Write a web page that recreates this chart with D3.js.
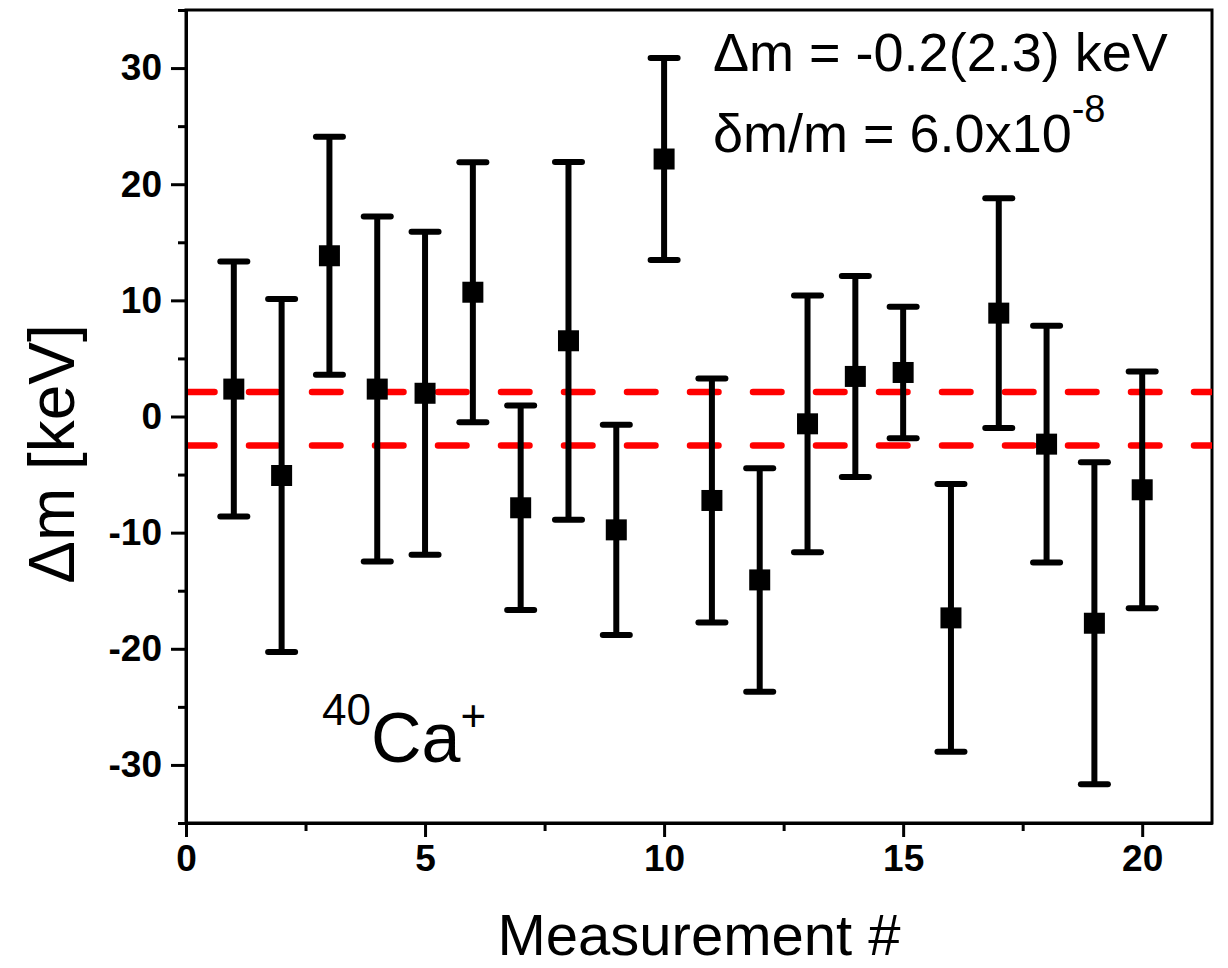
<!DOCTYPE html>
<html>
<head>
<meta charset="utf-8">
<script src="https://cdn.jsdelivr.net/npm/d3@7"></script>
<style>
body { margin: 0; background: #fff; }
text { font-family: "Liberation Sans", Arial, sans-serif; }
</style>
</head>
<body>
<script>

// measurement number, mass deviation [keV] and its 1-sigma error
const measurement = [1, 2, 3, 4, 5, 6, 7, 8, 9, 10, 11, 12, 13, 14, 15, 16, 17, 18, 19, 20];
const deltaM = [2.36, -5.08, 13.84, 2.36, 2.0, 10.7, -7.86, 6.52, -9.76, 22.17,
                -7.23, -14.07, -0.63, 3.45, 3.79, -17.34, 8.9, -2.38, -17.8, -6.31];
const deltaMErr = [10.98, 15.2, 10.25, 14.85, 13.9, 11.2, 8.8, 15.4, 9.05, 8.7,
                   10.5, 9.62, 11.05, 8.65, 5.66, 11.52, 9.9, 10.2, 13.87, 10.19];

// weighted mean +/- uncertainty band
const meanBand = [2.1, -2.5];

const xTicks = [0, 5, 10, 15, 20];
const xMinor = [2.5, 7.5, 12.5, 17.5];
const yTicks = [-30, -20, -10, 0, 10, 20, 30];
const yMinor = [-35, -25, -15, -5, 5, 15, 25, 35];

var svg = d3.select('body').append('svg')
    .attr('width', 1228)
    .attr('height', 968);

var pLeft = 186, pRight = 1212, pTop = 10, pBottom = 823;

var x = d3.scaleLinear().domain([0, 21.46]).range([pLeft, pRight]);
var y = d3.scaleLinear().domain([-35, 35]).range([pBottom, pTop]);

svg.append('defs').append('clipPath').attr('id', 'plot')
    .append('rect')
    .attr('x', pLeft).attr('y', pTop)
    .attr('width', pRight - pLeft).attr('height', pBottom - pTop);

// frame
svg.append('rect')
    .attr('x', pLeft).attr('y', pTop)
    .attr('width', pRight - pLeft).attr('height', pBottom - pTop)
    .attr('fill', 'none')
    .attr('stroke', '#000')
    .attr('stroke-width', 3);

// dashed band lines
svg.append('g').attr('clip-path', 'url(#plot)')
    .selectAll('line')
    .data(meanBand)
    .enter().append('line')
    .attr('x1', x(0)).attr('x2', pRight + 40)
    .attr('y1', d => y(d)).attr('y2', d => y(d))
    .attr('stroke', '#ff0000')
    .attr('stroke-width', 6.5)
    .attr('stroke-linecap', 'round')
    .attr('stroke-dasharray', '28.5,34.5');

// axes
function styleAxis(g) {
    g.select('.domain').attr('stroke-width', 3);
    g.selectAll('.tick line').attr('stroke-width', 3);
    g.selectAll('.tick text')
        .attr('font-family', '"Liberation Sans", Arial, sans-serif')
        .attr('font-weight', 'bold')
        .attr('font-size', 37)
        .attr('fill', '#000');
}

svg.append('g')
    .attr('transform', 'translate(0,' + pBottom + ')')
    .call(d3.axisBottom(x).tickValues(xMinor).tickSize(8).tickSizeOuter(0).tickFormat(''))
    .call(styleAxis);

svg.append('g')
    .attr('transform', 'translate(0,' + pBottom + ')')
    .call(d3.axisBottom(x).tickValues(xTicks).tickSize(14).tickSizeOuter(0).tickPadding(8)
        .tickFormat(d => String(d)))
    .call(styleAxis);

svg.append('g')
    .attr('transform', 'translate(' + pLeft + ',0)')
    .call(d3.axisLeft(y).tickValues(yMinor).tickSize(8).tickSizeOuter(0).tickFormat(''))
    .call(styleAxis);

svg.append('g')
    .attr('transform', 'translate(' + pLeft + ',0)')
    .call(d3.axisLeft(y).tickValues(yTicks).tickSize(15).tickSizeOuter(0).tickPadding(9)
        .tickFormat(d => String(d)))
    .call(styleAxis);

// error bars
var pts = measurement.map((m, i) => ({ m: m, v: deltaM[i], e: deltaMErr[i] }));
var bars = svg.append('g').attr('stroke', '#000').attr('stroke-width', 6);

bars.selectAll('.stem')
    .data(pts)
    .enter().append('line')
    .attr('class', 'stem')
    .attr('x1', d => x(d.m)).attr('x2', d => x(d.m))
    .attr('y1', d => y(d.v - d.e)).attr('y2', d => y(d.v + d.e));

bars.selectAll('.cap')
    .data(pts.flatMap(d => [{ m: d.m, v: d.v + d.e }, { m: d.m, v: d.v - d.e }]))
    .enter().append('line')
    .attr('class', 'cap')
    .attr('stroke-linecap', 'round')
    .attr('x1', d => x(d.m) - 13.5).attr('x2', d => x(d.m) + 13.5)
    .attr('y1', d => y(d.v)).attr('y2', d => y(d.v));

svg.append('g').selectAll('rect')
    .data(pts)
    .enter().append('rect')
    .attr('x', d => x(d.m) - 10.5)
    .attr('y', d => y(d.v) - 10.5)
    .attr('width', 21).attr('height', 21)
    .attr('fill', '#000');

// axis titles
svg.append('text')
    .attr('x', (pLeft + pRight) / 2)
    .attr('y', 955)
    .attr('text-anchor', 'middle')
    .attr('font-size', 58)
    .text('Measurement #');

svg.append('text')
    .attr('transform', 'translate(74,454) rotate(-90)')
    .attr('text-anchor', 'middle')
    .attr('font-size', 64)
    .text('Δm [keV]');

// annotations
svg.append('text')
    .attr('x', 713).attr('y', 71)
    .attr('font-size', 54)
    .text('Δm = -0.2(2.3) keV');

var t2 = svg.append('text')
    .attr('x', 713).attr('y', 152)
    .attr('font-size', 54);
t2.append('tspan').text('δm/m = 6.0x10');
t2.append('tspan').attr('dy', -30).attr('font-size', 38).text('-8');

var ion = svg.append('text')
    .attr('x', 322).attr('y', 725)
    .attr('font-size', 44);
ion.append('tspan').text('40');
ion.append('tspan').attr('dy', 37).attr('font-size', 70).text('Ca');
ion.append('tspan').attr('dy', -31).attr('font-size', 44).text('+');

</script>
</body>
</html>
